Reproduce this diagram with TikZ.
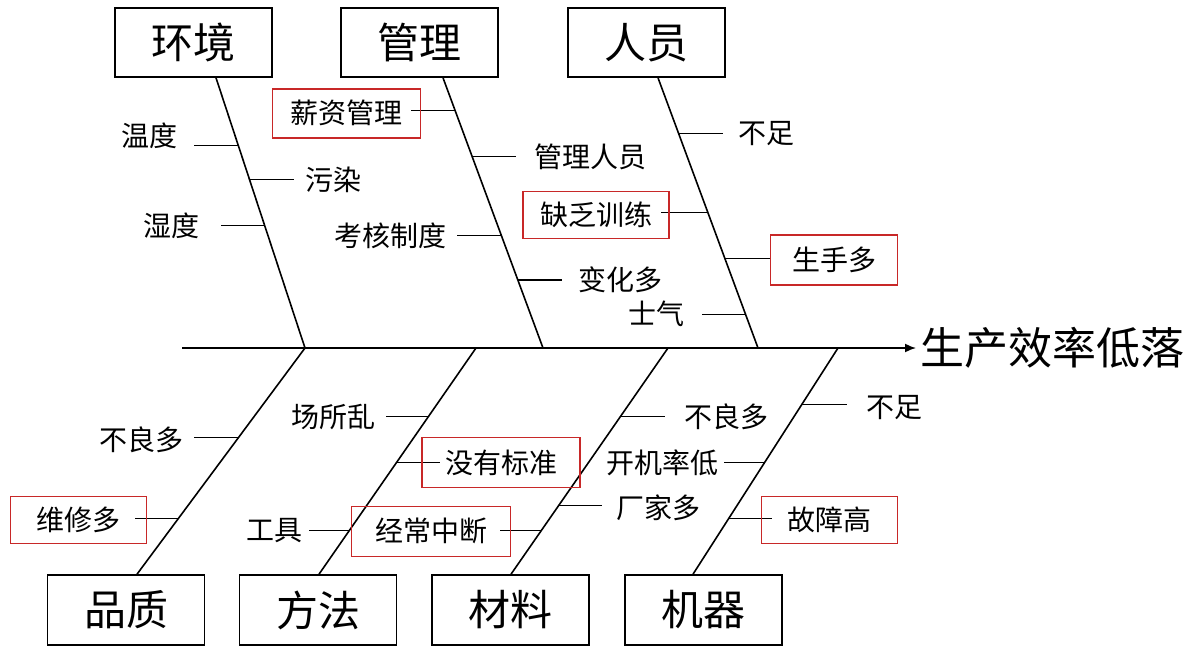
\documentclass[tikz,border=0pt]{standalone}
\usepackage{fontspec}
\setmainfont{Noto Sans CJK SC}
\usetikzlibrary{arrows.meta,calc}
\definecolor{boxred}{RGB}{200,40,40}
\tikzset{
  cat/.style={draw,line width=1.6pt,minimum width=157pt,minimum height=69pt,inner sep=0pt,font=\fontsize{42}{44}\selectfont},
  lbl/.style={inner xsep=10pt,inner ysep=0pt,font=\fontsize{28}{30}\selectfont},
  redbox/.style={draw=boxred,line width=1.6pt,inner sep=0pt,font=\fontsize{28}{30}\selectfont},
  bone/.style={line width=1.6pt},
  tick/.style={line width=1.4pt}
}

\begin{document}
\begin{tikzpicture}[x=1pt,y=-1pt]
\useasboundingbox (0,0) rectangle (1196,658);
% categories
\node[cat] (env) at (193.5,42.5) {环境};
\node[cat] (mgmt) at (419.5,42.5) {管理};
\node[cat] (staff) at (646.5,42.5) {人员};
\node[cat,minimum height=70pt] (qual) at (126,610) {品质};
\node[cat,minimum height=70pt] (meth) at (318,610) {方法};
\node[cat,minimum height=70pt] (mat) at (510.5,610) {材料};
\node[cat,minimum height=70pt] (mach) at (703.5,610) {机器};
% spine
\coordinate (tail) at (182,348);
\node[inner xsep=4pt,inner ysep=0pt,anchor=west,font=\fontsize{44}{46}\selectfont] (effect) at (916,348) {生产效率低落};
\draw[bone,-{Latex[length=11pt,width=9pt]}] (tail) -- (effect.west);
% bones
\coordinate (j1) at (305,348);
\coordinate (j2) at (543,348);
\coordinate (j3) at (758,348);
\coordinate (j4) at (476,348);
\coordinate (j5) at (668,348);
\coordinate (j6) at (838,348);
\coordinate (b1s) at ([xshift=22.5pt]env.south);
\coordinate (b2s) at ([xshift=23.5pt]mgmt.south);
\coordinate (b3s) at ([xshift=11.5pt]staff.south);
\coordinate (b4s) at ([xshift=11pt]qual.north);
\coordinate (b5s) at ([xshift=1pt]meth.north);
\coordinate (b6s) at ([xshift=0.5pt]mat.north);
\coordinate (b7s) at ([xshift=-10.5pt]mach.north);
\draw[bone] (b1s) -- (j1);
\draw[bone] (b2s) -- (j2);
\draw[bone] (b3s) -- (j3);
\draw[bone] (b4s) -- (j1);
\draw[bone] (b5s) -- (j4);
\draw[bone] (b6s) -- (j5);
\draw[bone] (b7s) -- (j6);
% environment
\draw[tick] ($(b1s)!.251!(j1)$) -- ++(-44,0) node[lbl,left,xshift=-6pt,yshift=10pt] (wendu) {温度};
\draw[tick] ($(b1s)!.376!(j1)$) -- ++(45,0) node[lbl,right] (wuran) {污染};
\draw[tick] ($(b1s)!.546!(j1)$) -- ++(-44,0) node[lbl,left,xshift=-10pt] (shidu) {湿度};
% management
\draw[tick] ($(b2s)!.122!(j2)$) -- ++(-44,0) node[redbox,left,xshift=10pt,yshift=-2.5pt,minimum width=148pt,minimum height=49pt] (xinzi) {薪资管理};
\draw[tick] ($(b2s)!.292!(j2)$) -- ++(44,0) node[lbl,right,xshift=8pt] (guanli) {管理人员};
\draw[tick] ($(b2s)!.583!(j2)$) -- ++(-44,0) node[lbl,left] (kaohe) {考核制度};
\draw[tick] ($(b2s)!.749!(j2)$) -- ++(44,0) node[lbl,right,xshift=6pt] (bianhua) {变化多};
% staff
\draw[tick] ($(b3s)!.207!(j3)$) -- ++(44,0) node[lbl,right,xshift=5pt] (buzu) {不足};
\draw[tick] ($(b3s)!.498!(j3)$) -- ++(-47,0) node[redbox,left,xshift=9pt,yshift=-2.5pt,minimum width=146pt,minimum height=47pt] (quefa) {缺乏训练};
\draw[tick] ($(b3s)!.668!(j3)$) -- ++(45,0) node[redbox,right,yshift=-2pt,minimum width=127pt,minimum height=50pt] (shengshou) {生手多};
\draw[tick] ($(b3s)!.875!(j3)$) -- ++(-44,0) node[lbl,left,xshift=-6pt] (shiqi) {士气};
% quality
\draw[tick] ($(b4s)!.604!(j1)$) -- ++(-44,0) node[lbl,left,yshift=-2pt] (buliang) {不良多};
\draw[tick] ($(b4s)!.247!(j1)$) -- ++(-43,0) node[redbox,left,xshift=12pt,yshift=-1.5pt,minimum width=136pt,minimum height=47pt] (weixiu) {维修多};
% method
\draw[tick] ($(b5s)!.696!(j4)$) -- ++(-42,0) node[lbl,left] (changsuo) {场所乱};
\draw[tick] ($(b5s)!.493!(j4)$) -- ++(44,0) node[redbox,right,xshift=-19pt,minimum width=158pt,minimum height=50pt] (biaozhun) {没有标准};
\draw[tick] ($(b5s)!.194!(j4)$) -- ++(-40,0) node[lbl,left,xshift=4pt] (gongju) {工具};
% material
\draw[tick] ($(b6s)!.194!(j5)$) -- ++(-41,0) node[redbox,left,xshift=11pt,yshift=-1pt,minimum width=159pt,minimum height=50pt] (zhongduan) {经常中断};
\draw[tick] ($(b6s)!.696!(j5)$) -- ++(45,0) node[lbl,right,xshift=9pt] (buliangb) {不良多};
\draw[tick] ($(b6s)!.304!(j5)$) -- ++(43,0) node[lbl,right,xshift=4pt,yshift=-2pt] (changjia) {厂家多};
% machine
\draw[tick] ($(b7s)!.749!(j6)$) -- ++(45,0) node[lbl,right,xshift=9pt,yshift=-3pt] (buzub) {不足};
\draw[tick] ($(b7s)!.493!(j6)$) -- ++(-40,0) node[lbl,left,xshift=5pt] (kaiji) {开机率低};
\draw[tick] ($(b7s)!.247!(j6)$) -- ++(43,0) node[redbox,right,xshift=-11pt,yshift=-1.5pt,minimum width=136pt,minimum height=47pt] (guzhang) {故障高};
\end{tikzpicture}
\end{document}
